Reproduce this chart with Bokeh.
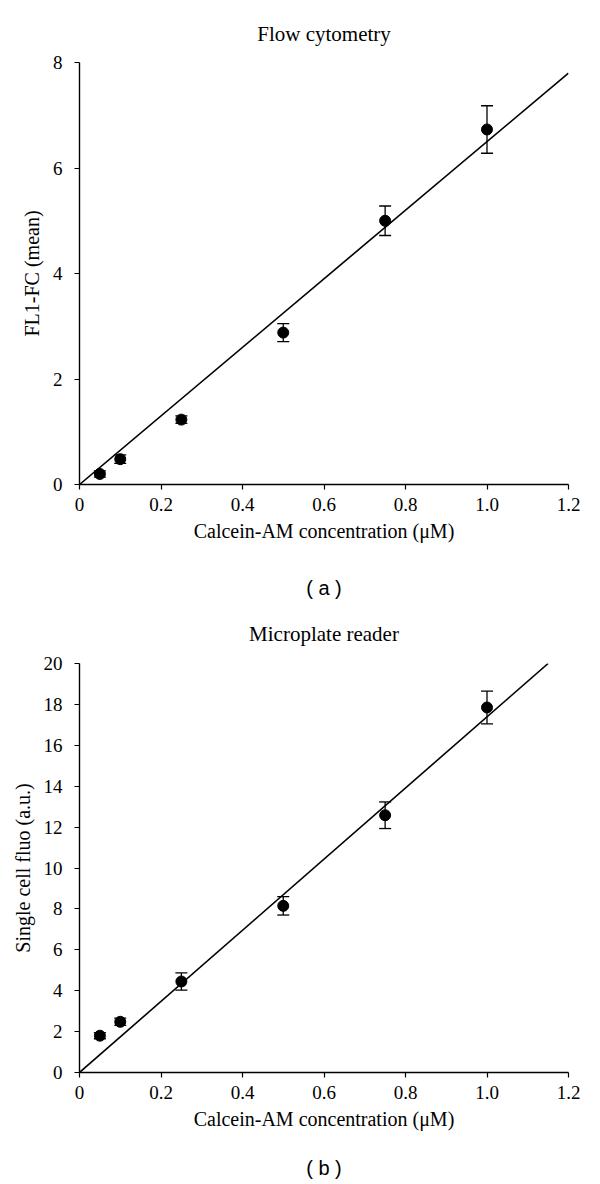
from bokeh.plotting import figure
from bokeh.models import (Range1d, Whisker, TeeHead, ColumnDataSource, FixedTicker,
                          PrintfTickFormatter, LinearAxis)
from bokeh.layouts import column
from bokeh.embed import file_html
from bokeh.resources import INLINE

# ---- data ----
conc = [0.05, 0.10, 0.25, 0.50, 0.75, 1.00]

fc_mean = [0.20, 0.48, 1.23, 2.88, 5.00, 6.73]
fc_err = [0.06, 0.08, 0.07, 0.17, 0.28, 0.45]
fit_a_x = [0.0, 1.2]
fit_a_y = [0.0, 7.8]

mp_mean = [1.80, 2.48, 4.45, 8.15, 12.58, 17.85]
mp_err = [0.15, 0.18, 0.42, 0.45, 0.65, 0.80]
fit_b_x = [0.0, 1.15]
fit_b_y = [0.0, 20.0]

x_ticks = [0, 0.2, 0.4, 0.6, 0.8, 1.0, 1.2]
ya_ticks = [0, 2, 4, 6, 8]
yb_ticks = [0, 2, 4, 6, 8, 10, 12, 14, 16, 18, 20]

SERIF = "Liberation Serif"
SANS = "Liberation Sans"


def make_panel(title, ylabel, letter, y, err, fx, fy, ymax, yticks,
               frame_h, b_top, b_bottom, title_standoff, letter_standoff):
    p = figure(frame_width=489, frame_height=frame_h,
               min_border_left=79, min_border_right=16,
               min_border_top=b_top, min_border_bottom=b_bottom,
               x_range=Range1d(0, 1.2), y_range=Range1d(0, ymax),
               output_backend="svg", toolbar_location=None,
               background_fill_color="white", border_fill_color="white")
    p.outline_line_color = None
    p.grid.visible = False

    p.title.text = title
    p.title.align = "center"
    p.title.text_font = SERIF
    p.title.text_font_size = "21px"
    p.title.text_font_style = "normal"
    p.title.text_color = "black"
    p.title.standoff = title_standoff

    src = ColumnDataSource(dict(x=conc, y=y,
                                lo=[a - b for a, b in zip(y, err)],
                                hi=[a + b for a, b in zip(y, err)]))
    p.line(fx, fy, line_color="black", line_width=1.6)
    w = Whisker(base="x", lower="lo", upper="hi", source=src,
                line_color="black", line_width=1.3,
                upper_head=TeeHead(size=12, line_color="black", line_width=1.3),
                lower_head=TeeHead(size=12, line_color="black", line_width=1.3))
    p.add_layout(w)
    p.scatter("x", "y", source=src, size=11, color="black")

    for ax in (p.xaxis[0], p.yaxis[0]):
        ax.axis_line_color = "black"
        ax.axis_line_width = 1.4
        ax.major_tick_line_color = "black"
        ax.major_tick_line_width = 1.2
        ax.major_tick_in = 0
        ax.major_tick_out = 5
        ax.minor_tick_line_color = None
        ax.major_label_text_font = SERIF
        ax.major_label_text_font_size = "19px"
        ax.major_label_text_color = "black"
        ax.axis_label_text_font = SERIF
        ax.axis_label_text_font_size = "20px"
        ax.axis_label_text_font_style = "normal"
        ax.axis_label_text_color = "black"

    p.xaxis.ticker = FixedTicker(ticks=x_ticks)
    p.xaxis.formatter = PrintfTickFormatter(format="%.1f")
    p.xaxis.major_label_overrides = {0: "0"}
    p.xaxis.major_label_standoff = 8
    p.xaxis.axis_label = "Calcein-AM concentration (\u03bcM)"
    p.xaxis.axis_label_standoff = 6

    p.yaxis.ticker = FixedTicker(ticks=yticks)
    p.yaxis.major_label_standoff = 12
    p.yaxis.axis_label = ylabel
    p.yaxis.axis_label_standoff = 7

    # panel letter "( a )" as the label of a blank axis under the x axis
    sub = LinearAxis(ticker=FixedTicker(ticks=[]), axis_line_color=None,
                     major_tick_line_color=None, minor_tick_line_color=None,
                     major_tick_out=0, major_tick_in=0, major_label_standoff=0,
                     axis_label="( " + letter + " )",
                     axis_label_standoff=letter_standoff,
                     axis_label_text_font=SANS, axis_label_text_font_size="20px",
                     axis_label_text_font_style="normal", axis_label_text_color="black")
    p.add_layout(sub, "below")
    return p


pa = make_panel("Flow cytometry", "FL1-FC (mean)", "a", fc_mean, fc_err,
                fit_a_x, fit_a_y, 8, ya_ticks, 422, 62, 116, 34, 32)
pb = make_panel("Microplate reader", "Single cell fluo (a.u.)", "b", mp_mean, mp_err,
                fit_b_x, fit_b_y, 20, yb_ticks, 409, 61, 112, 36, 24)

layout = column(pa, pb, spacing=0)
open("out.html", "w").write(file_html(layout, INLINE))
